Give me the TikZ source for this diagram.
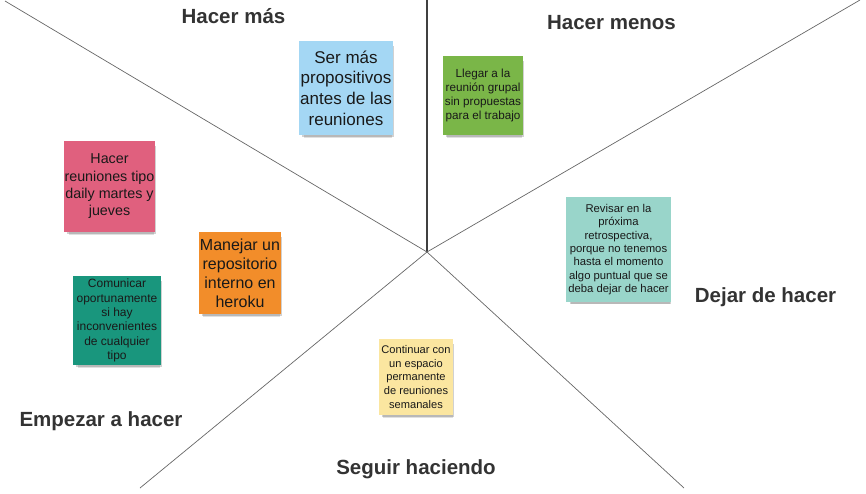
\documentclass[tikz,border=0pt]{standalone}
\usepackage{fontspec}
\setmainfont{Liberation Sans}
\usetikzlibrary{shadows}

\definecolor{azul}{HTML}{A4D7F4}
\definecolor{verde}{HTML}{7AB648}
\definecolor{rosa}{HTML}{E0607E}
\definecolor{naranja}{HTML}{F28D2A}
\definecolor{turquesa}{HTML}{19967D}
\definecolor{aguamar}{HTML}{99D5CA}
\definecolor{amarillo}{HTML}{FBE6A0}

\tikzset{
  eje/.style={draw=black!60, line width=0.7pt},
  titulo/.style={anchor=base, text=black!80, font=\fontsize{20.5}{24}\selectfont\bfseries},
  nota/.style={align=center, inner sep=0pt, text=black!90,
    general shadow={shadow xshift=2pt, shadow yshift=-6pt, shadow scale=0.94, opacity=.12, fill=black},
    general shadow={shadow xshift=2pt, shadow yshift=-3.5pt, shadow scale=0.97, opacity=.18, fill=black}},
}

\begin{document}
\begin{tikzpicture}[x=1pt, y=-1pt]
\path[use as bounding box] (0,0) rectangle (866,494);

% Define axes
\coordinate (c) at (427,252);
\coordinate (n) at (427,0);
\coordinate (no) at (5,1);
\coordinate (ne) at (860,0);
\coordinate (so) at (140,488);
\coordinate (se) at (684,488);

% Connect the axes
\draw[eje, draw=black!75, line width=1.2pt] (c) -- (n);
\draw[eje] (c) -- (no);
\draw[eje] (c) -- (ne);
\draw[eje] (c) -- (so);
\draw[eje] (c) -- (se);

% Titles
\node[titulo] (tmas) at (233.5,24) {Hacer más};
\node[titulo] (tmenos) at (611.5,30) {Hacer menos};
\node[titulo] (tdejar) at (765.5,302) {Dejar de hacer};
\node[titulo] (tempezar) at (101,426) {Empezar a hacer};
\node[titulo] (tseguir) at (416,474) {Seguir haciendo};

% Notes
\node[nota, fill=azul, minimum width=94pt, minimum height=94pt,
  font=\fontsize{17}{20.7}\selectfont] (mas) at (346,88)
  {Ser más\\propositivos\\antes de las\\reuniones};
\node[nota, fill=verde, minimum width=80pt, minimum height=79pt,
  font=\fontsize{11.7}{14}\selectfont] (menos) at (483,95.5)
  {Llegar a la\\reunión grupal\\sin propuestas\\para el trabajo};
\node[nota, fill=rosa, minimum width=91pt, minimum height=91pt,
  font=\fontsize{14.3}{17.3}\selectfont] (empezar1) at (109.5,186.5)
  {Hacer\\reuniones tipo\\daily martes y\\jueves};
\node[nota, fill=naranja, minimum width=82pt, minimum height=82pt,
  font=\fontsize{16}{19}\selectfont] (empezar2) at (240,273)
  {Manejar un\\repositorio\\interno en\\heroku};
\node[nota, fill=turquesa, minimum width=88pt, minimum height=89pt,
  font=\fontsize{12}{14.3}\selectfont] (empezar3) at (117,320.5)
  {Comunicar\\oportunamente\\si hay\\inconvenientes\\de cualquier\\tipo};
\node[nota, fill=aguamar, minimum width=105pt, minimum height=105pt,
  font=\fontsize{11.3}{13.4}\selectfont] (dejar) at (618.5,249.5)
  {Revisar en la\\próxima\\retrospectiva,\\porque no tenemos\\hasta el momento\\algo puntual que se\\deba dejar de hacer};
\node[nota, fill=amarillo, minimum width=74pt, minimum height=76pt,
  font=\fontsize{11.1}{13.6}\selectfont] (seguir) at (416,377)
  {Continuar con\\un espacio\\permanente\\de reuniones\\semanales};

\end{tikzpicture}
\end{document}
